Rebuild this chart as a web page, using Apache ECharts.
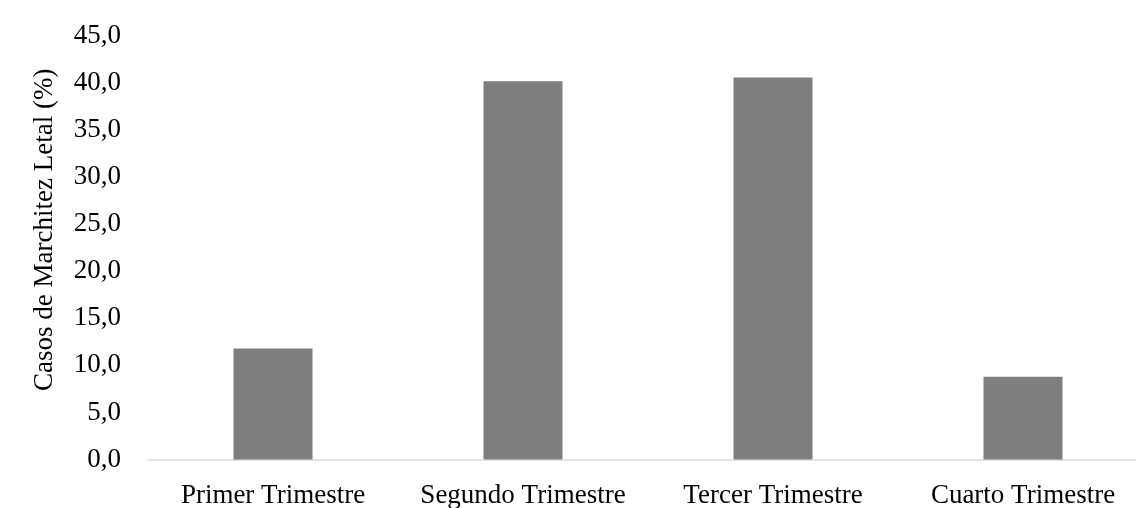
<!DOCTYPE html>
<html>
<head>
<meta charset="utf-8">
<script src="https://cdn.jsdelivr.net/npm/echarts@6/dist/echarts.min.js"></script>
<style>html,body{margin:0;padding:0;background:#fff;}#c{width:1136px;height:508px;}</style>
</head>
<body>
<div id="c"></div>
<script>
const categories = ['Primer Trimestre', 'Segundo Trimestre', 'Tercer Trimestre', 'Cuarto Trimestre'];
const values = [11.8, 40.2, 40.6, 8.8];
const yAxisName = 'Casos de Marchitez Letal (%)';
const yMin = 0, yMax = 45, yInterval = 5;

const font = '"Liberation Serif", "Times New Roman", serif';
const chart = echarts.init(document.getElementById('c'));
chart.setOption({
  animation: false,
  grid: { left: 148, right: -12, top: 36, bottom: 48.5, outerBoundsMode: 'none', containLabel: false },
  xAxis: {
    type: 'category',
    data: categories,
    axisLine: { show: true, lineStyle: { color: '#d9d9d9', width: 1.5 } },
    axisTick: { show: false },
    axisLabel: { color: '#000', fontFamily: font, fontSize: 27, margin: 23, interval: 0 }
  },
  yAxis: {
    type: 'value',
    min: yMin, max: yMax, interval: yInterval,
    name: yAxisName,
    nameLocation: 'middle',
    nameGap: 90,
    nameTextStyle: { color: '#000', fontFamily: font, fontSize: 27, padding: [0, 0, 0, 36] },
    axisLine: { show: false },
    axisTick: { show: false },
    splitLine: { show: false },
    axisLabel: {
      color: '#000', fontFamily: font, fontSize: 27, margin: 27,
      formatter: v => v.toFixed(1).replace('.', ',')
    }
  },
  series: [{
    type: 'bar',
    data: values,
    barWidth: 79,
    itemStyle: { color: '#7f7f7f' }
  }]
});
</script>
</body>
</html>
